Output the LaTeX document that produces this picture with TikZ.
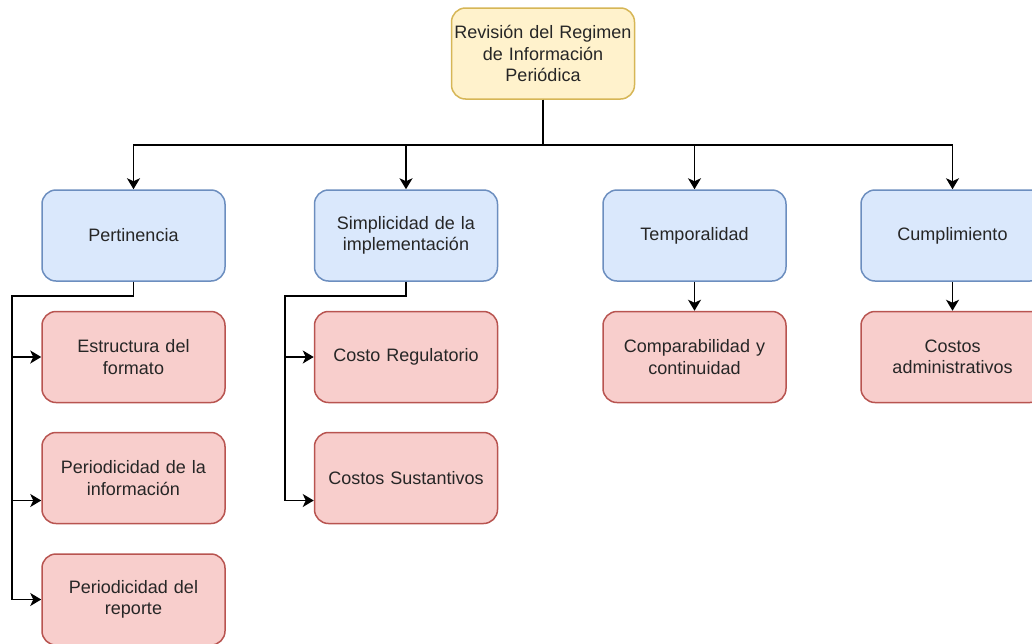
\documentclass[tikz,border=0pt]{standalone}
\usepackage{fontspec}
\setmainfont{Liberation Sans}
\usepackage{tikz}
\usetikzlibrary{arrows.meta}
\usepackage{xcolor}
\definecolor{yfill}{HTML}{FFF2CC}
\definecolor{ydraw}{HTML}{D6B656}
\definecolor{bfill}{HTML}{DAE8FC}
\definecolor{bdraw}{HTML}{6C8EBF}
\definecolor{rfill}{HTML}{F8CECC}
\definecolor{rdraw}{HTML}{B85450}
\tikzset{
  box/.style={rectangle, rounded corners=14pt, line width=1.5pt, minimum width=183pt,
    minimum height=91pt, inner sep=0pt, text width=183pt, align=center,
    font=\fontsize{18}{21.5}\selectfont, text=black!85},
  topbox/.style={box, fill=yfill, draw=ydraw},
  critbox/.style={box, fill=bfill, draw=bdraw},
  costbox/.style={box, fill=rfill, draw=rdraw},
  arr/.style={line width=1.5pt, -{Stealth[length=11pt,width=13pt,inset=3pt]}}
}
\begin{document}
\begin{tikzpicture}[x=1pt,y=-1pt]
    \useasboundingbox (0,0) rectangle (1032,643);
    \node[topbox] (rev) at (543,53.5) {Revisión del Regimen\\de Información\\Periódica};
    \node[critbox] (pert) at (133.5,235.5) {Pertinencia};
    \node[critbox] (simp) at (406,235.5) {Simplicidad de la\\implementación};
    \node[critbox] (temp) at (694.5,235.5) {Temporalidad};
    \node[critbox] (cump) at (952.5,235.5) {Cumplimiento};
    \node[costbox] (estr) at (133.5,357) {Estructura del\\formato};
    \node[costbox] (pinf) at (133.5,478) {Periodicidad de la\\información};
    \node[costbox] (prep) at (133.5,599.5) {Periodicidad del\\reporte};
    \node[costbox] (creg) at (406,357) {Costo Regulatorio};
    \node[costbox] (csus) at (406,478) {Costos Sustantivos};
    \node[costbox] (comp) at (694.5,357) {Comparabilidad y\\continuidad};
    \node[costbox] (cadm) at (952.5,357) {Costos\\administrativos};
    \coordinate (bus) at (543,145);
    \coordinate (pl) at (12,296);
    \coordinate (sl) at (285,296);
    \draw[arr] (rev.south) -- (bus) -| (pert.north);
    \draw[arr] (rev.south) -- (bus) -| (simp.north);
    \draw[arr] (rev.south) -- (bus) -| (temp.north);
    \draw[arr] (rev.south) -- (bus) -| (cump.north);
    \draw[arr] (pert.south) |- (pl) |- (estr.west);
    \draw[arr] (pert.south) |- (pl) |- ([yshift=-22.5pt]pinf.west);
    \draw[arr] (pert.south) |- (pl) |- (prep.west);
    \draw[arr] (simp.south) |- (sl) |- (creg.west);
    \draw[arr] (simp.south) |- (sl) |- ([yshift=-22.5pt]csus.west);
    \draw[arr] (temp.south) -- (comp.north);
    \draw[arr] (cump.south) -- (cadm.north);
  \end{tikzpicture}
\end{document}
